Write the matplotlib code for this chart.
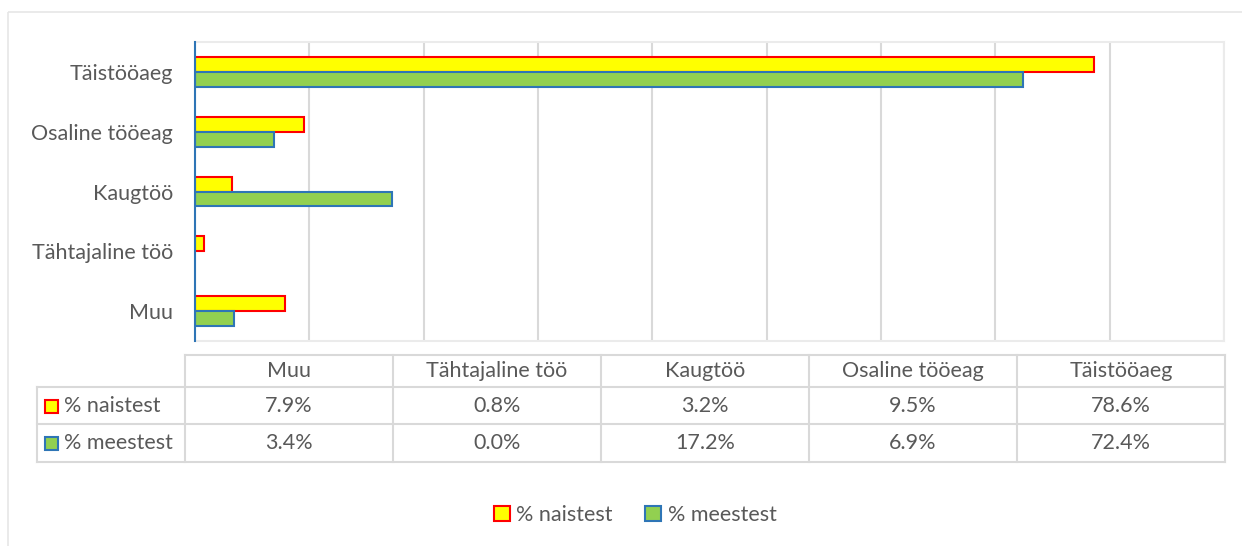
import matplotlib
matplotlib.use("Agg")
import matplotlib.pyplot as plt
import numpy as np
from matplotlib.patches import Patch, Rectangle

categories = ["Muu", "Tähtajaline töö", "Kaugtöö", "Osaline tööeag", "Täistööaeg"]
naised = [7.9, 0.8, 3.2, 9.5, 78.6]
mehed = [3.4, 0.0, 17.2, 6.9, 72.4]
series_names = ["% naistest", "% meestest"]

plt.rcParams["font.family"] = ["Lato", "DejaVu Sans"]
TEXT = "#595959"
GRID = "#D9D9D9"
YELLOW, RED = "#FFFF00", "#FF0000"
GREEN, BLUE = "#92D050", "#2E75B6"
FS = 15.5

W, H = 1242, 546
fig = plt.figure(figsize=(W / 100, H / 100), dpi=100)


def fx(px):
    return px / W


def fy(py):
    return 1 - py / H


# bar chart
ax = fig.add_axes([fx(195), fy(341), fx(1224) - fx(195), fy(42) - fy(341)])
y = np.arange(len(categories))
h = 0.25
b1 = ax.barh(y + h / 2, naised, height=h, color=YELLOW, edgecolor=RED, linewidth=1.5, zorder=3)
b2 = ax.barh(y - h / 2, mehed, height=h, color=GREEN, edgecolor=BLUE, linewidth=1.5, zorder=3)
for bars, vals in ((b1, naised), (b2, mehed)):
    for bar, v in zip(bars, vals):
        if v == 0:
            bar.set_visible(False)

ax.set_xlim(0, 90)
ax.set_ylim(-0.5, len(categories) - 0.5)
ax.set_xticks(np.arange(0, 91, 10))
ax.set_xticklabels([])
ax.tick_params(axis="x", length=0)
ax.grid(axis="x", color=GRID, linewidth=1.5, zorder=0)
ax.set_yticks(y)
ax.set_yticklabels(categories, fontsize=FS, color=TEXT)
ax.tick_params(axis="y", length=0, pad=16)
for side in ("top", "bottom", "right"):
    ax.spines[side].set_color("#EBEBEB")
    ax.spines[side].set_linewidth(1.5)
ax.spines["left"].set_color(BLUE)
ax.spines["left"].set_linewidth(1.5)
ax.spines["left"].set_zorder(4)

# data table drawn on an overlay in pixel coordinates
tab = fig.add_axes([0, 0, 1, 1])
tab.set_xlim(0, W)
tab.set_ylim(H, 0)
tab.axis("off")
tab.add_patch(Rectangle((8, 12), 1300, 600, fill=False, edgecolor="#E6E6E6", linewidth=1.2))

col_edges = np.linspace(185, 1225, len(categories) + 1)
row_edges = [355, 387, 424, 462]
left = 37
lc = dict(color=GRID, linewidth=1.5)
tab.plot([col_edges[0], col_edges[-1]], [row_edges[0]] * 2, **lc)
for r in row_edges[1:]:
    tab.plot([left, col_edges[-1]], [r, r], **lc)
tab.plot([left, left], [row_edges[1], row_edges[-1]], **lc)
for c in col_edges:
    tab.plot([c, c], [row_edges[0], row_edges[-1]], **lc)

mids = (col_edges[:-1] + col_edges[1:]) / 2
for m, cat in zip(mids, categories):
    tab.text(m, (row_edges[0] + row_edges[1]) / 2, cat, ha="center", va="center",
             fontsize=FS, color=TEXT)

styles = [(YELLOW, RED), (GREEN, BLUE)]
for i, (name, vals) in enumerate(zip(series_names, (naised, mehed))):
    yc = (row_edges[i + 1] + row_edges[i + 2]) / 2
    fc, ec = styles[i]
    tab.add_patch(Rectangle((45, yc - 6), 13, 13, facecolor=fc, edgecolor=ec, linewidth=1.5))
    tab.text(64, yc, name, ha="left", va="center", fontsize=FS, color=TEXT)
    for m, v in zip(mids, vals):
        tab.text(m, yc, f"{v:.1f}%", ha="center", va="center", fontsize=FS, color=TEXT)

# legend
handles = [Patch(facecolor=fc, edgecolor=ec, linewidth=1.5) for fc, ec in styles]
fig.legend(handles, series_names, loc="center", bbox_to_anchor=(fx(635), fy(515)),
           ncol=2, frameon=False, fontsize=FS, labelcolor=TEXT,
           handlelength=0.75, handleheight=0.75, handletextpad=0.3, columnspacing=1.5)

fig.savefig("out.png", dpi=100)
